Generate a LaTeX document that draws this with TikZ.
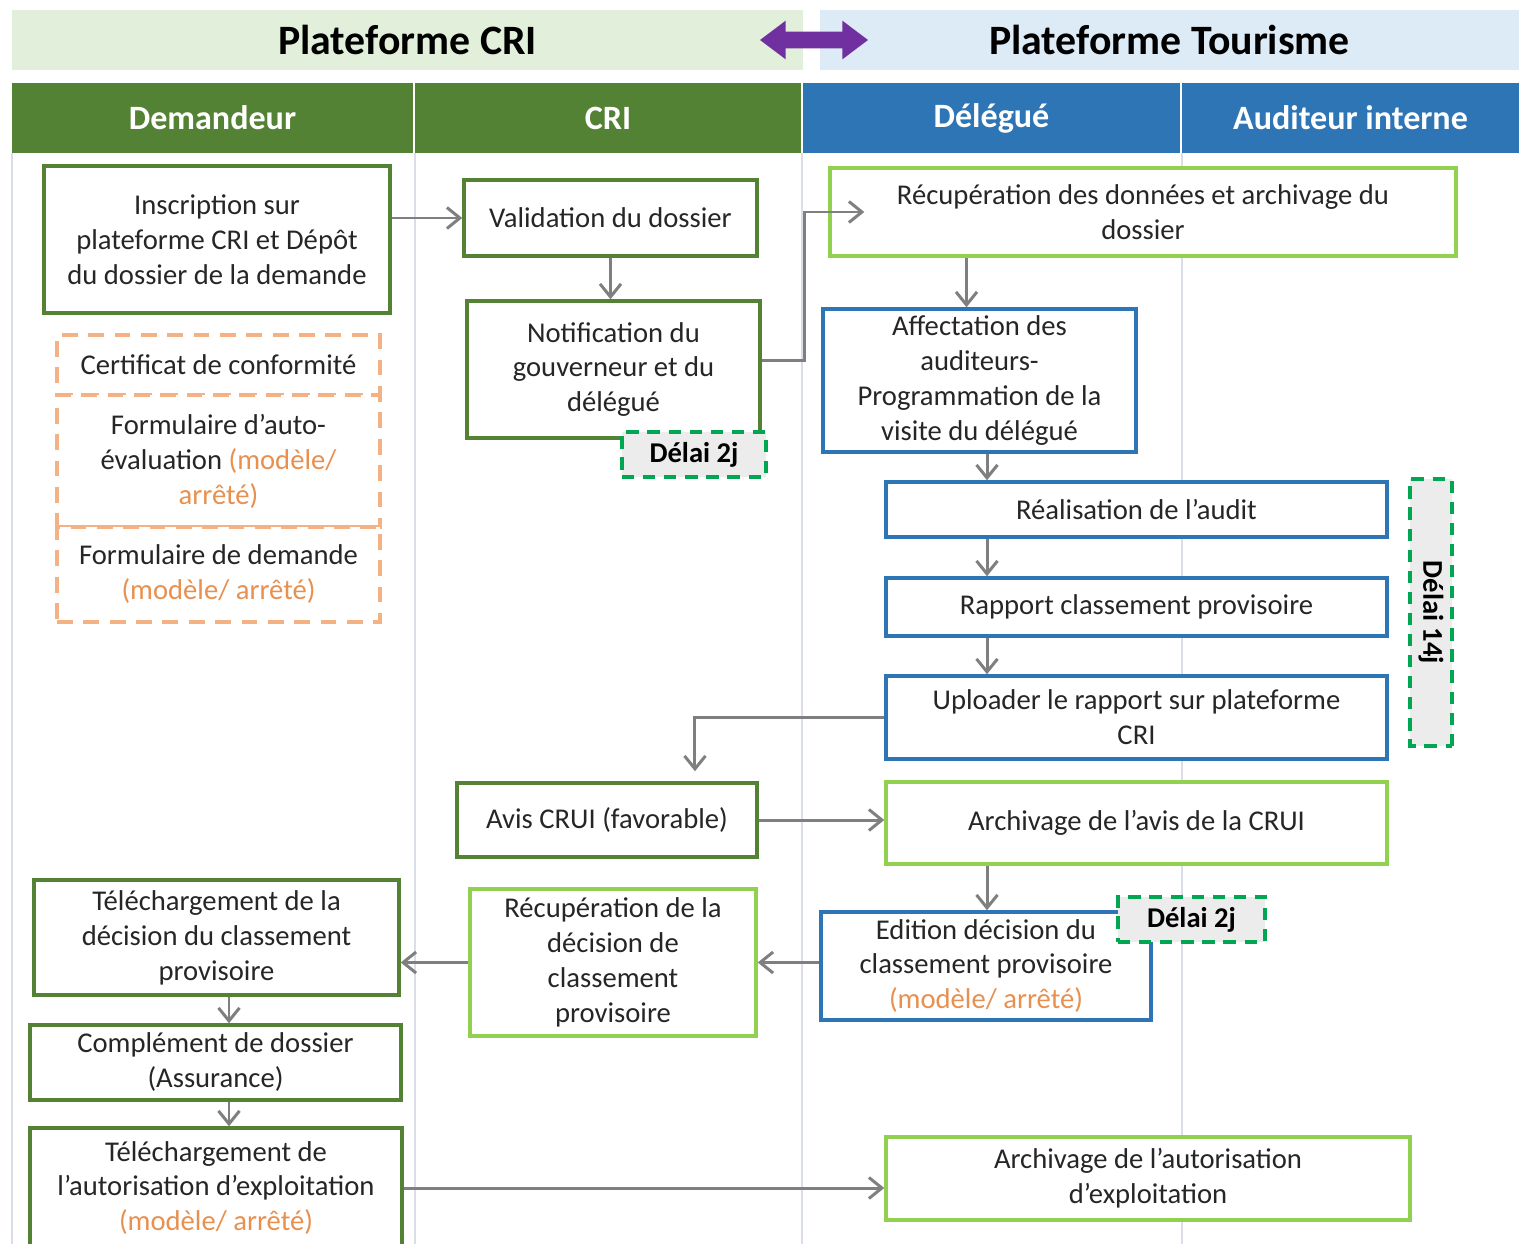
\documentclass[tikz,border=0pt]{standalone}
\usepackage{fontspec}
\setmainfont{Carlito}
\usetikzlibrary{arrows.meta,shapes.arrows}

\definecolor{crigreen}{HTML}{548235}
\definecolor{archgreen}{HTML}{92D050}
\definecolor{tourblue}{HTML}{2E75B6}
\definecolor{crilight}{HTML}{E2EFDA}
\definecolor{tourlight}{HTML}{DDEBF7}
\definecolor{pieceorange}{HTML}{F4B183}
\definecolor{orangetext}{HTML}{E8904F}
\definecolor{delaigreen}{HTML}{00A651}
\definecolor{lanegrey}{HTML}{D9DEE8}
\definecolor{arrowgrey}{HTML}{7F7F7F}
\definecolor{textgrey}{HTML}{262626}
\definecolor{linkviolet}{HTML}{7030A0}

\tikzset{
  box/.style={draw, line width=2pt, fill=white, align=center, inner sep=2pt,
    text=textgrey, font=\fontsize{16.3}{19.9}\selectfont},
  cribox/.style={box, draw=crigreen},
  archbox/.style={box, draw=archgreen},
  tourbox/.style={box, draw=tourblue},
  piecebox/.style={box, line width=1.8pt, draw=pieceorange, dash pattern=on 9pt off 6pt},
  delai/.style={draw=delaigreen, fill=gray!15, line width=1.8pt, dash pattern=on 7pt off 5pt,
    text=black, font=\fontsize{16.3}{19.9}\selectfont\bfseries},
  flow/.style={draw=arrowgrey, line width=1.7pt, -{Straight Barb[length=0.26cm,width=0.42cm]}},
  band/.style={font=\fontsize{23.8}{28}\selectfont\bfseries, minimum height=1.2cm, inner sep=0pt},
  lanehead/.style={text=white, font=\fontsize{19.4}{23}\selectfont\bfseries,
    minimum height=1.4cm, inner sep=0pt},
}
\newcommand{\modele}[1]{{\color{orangetext}#1}}

\begin{document}
\begin{tikzpicture}[x=0.02cm, y=-0.02cm]
\useasboundingbox (0,0) rectangle (1519,1244);

% bandeaux des plateformes
\node[band, fill=crilight, minimum width=15.82cm] (pcri) at (407.5,40) {Plateforme CRI};
\node[band, fill=tourlight, minimum width=13.98cm] (ptour) at (1169.5,40) {Plateforme Tourisme};
\node[double arrow, fill=linkviolet, inner sep=0.16cm, minimum height=2.16cm,
  double arrow head extend=0.22cm, double arrow tip angle=74] (plink) at (814,40) {};

% en-tetes des couloirs
\node[lanehead, fill=crigreen, minimum width=8.02cm] (hdem) at (212.5,118) {Demandeur};
\node[lanehead, fill=crigreen, minimum width=7.72cm] (hcri) at (608,118) {CRI};
\node[lanehead, fill=tourblue, minimum width=7.54cm] (hdel) at (991.5,118) {Délégué};
\node[lanehead, fill=tourblue, minimum width=6.74cm] (haud) at (1350.5,118) {Auditeur interne};

\foreach \x in {12,415,802,1182}
	\draw[lanegrey, line width=1pt] (\x,153) -- (\x,1244);

% Demandeur
\node[cribox, minimum width=6.92cm, minimum height=2.94cm] (ins) at (217,239.5)
	{Inscription sur\\plateforme CRI et Dépôt\\du dossier de la demande};
\node[piecebox, minimum width=6.46cm, minimum height=1.2cm] (cert) at (218.5,365)
	{Certificat de conformité};
\node[piecebox, minimum width=6.46cm, minimum height=2.64cm] (auto) at (218.5,461)
	{Formulaire d’auto-\\évaluation \modele{(modèle/}\\\modele{arrêté)}};
\node[piecebox, minimum width=6.46cm, minimum height=1.9cm] (form) at (218.5,574.5)
	{Formulaire de demande\\\modele{(modèle/ arrêté)}};
\node[cribox, minimum width=7.3cm, minimum height=2.3cm] (teldec) at (216.5,937.5)
	{Téléchargement de la\\décision du classement\\provisoire};
\node[cribox, minimum width=7.42cm, minimum height=1.5cm] (compl) at (215.5,1062.5)
	{Complément de dossier\\(Assurance)};
\node[cribox, minimum width=7.44cm, minimum height=2.4cm] (telaut) at (216,1188)
	{Téléchargement de\\l’autorisation d’exploitation\\\modele{(modèle/ arrêté)}};

% CRI
\node[cribox, minimum width=5.86cm, minimum height=1.52cm] (val) at (610.5,218)
	{Validation du dossier};
\node[cribox, minimum width=5.86cm, minimum height=2.74cm] (notif) at (613.5,369.5)
	{Notification du\\gouverneur et du\\délégué};
\node[delai, minimum width=2.88cm, minimum height=0.9cm] (dnotif) at (694,454.5) {Délai 2j};
\node[cribox, minimum width=6cm, minimum height=1.48cm] (avis) at (607,820)
	{Avis CRUI (favorable)};
\node[archbox, minimum width=5.72cm, minimum height=2.94cm] (recdec) at (613,962.5)
	{Récupération de la\\décision de\\classement\\provisoire};

% Delegue et auditeur
\node[archbox, minimum width=12.52cm, minimum height=1.76cm] (recup) at (1143,212)
	{Récupération des données et archivage du\\dossier};
\node[tourbox, minimum width=6.26cm, minimum height=2.86cm] (affect) at (979.5,380.5)
	{Affectation des\\auditeurs-\\Programmation de la\\visite du délégué};
\node[tourbox, minimum width=10.02cm, minimum height=1.1cm] (audit) at (1136.5,509.5)
	{Réalisation de l’audit};
\node[tourbox, minimum width=10.02cm, minimum height=1.16cm] (rapport) at (1136.5,607)
	{Rapport classement provisoire};
\node[tourbox, minimum width=10.02cm, minimum height=1.66cm] (upload) at (1136.5,717.5)
	{Uploader le rapport sur plateforme\\CRI};
\node[delai, rotate=-90, minimum width=5.34cm, minimum height=0.84cm] (daudit) at (1431,612.5)
	{Délai 14j};
\node[archbox, minimum width=10.02cm, minimum height=1.64cm] (archavis) at (1136.5,823)
	{Archivage de l’avis de la CRUI};
\node[tourbox, minimum width=6.6cm, minimum height=2.16cm] (edit) at (986,966)
	{Edition décision du\\classement provisoire\\\modele{(modèle/ arrêté)}};
\node[delai, minimum width=2.94cm, minimum height=0.9cm] (dedit) at (1191.5,919.5) {Délai 2j};
\node[archbox, minimum width=10.48cm, minimum height=1.66cm] (archaut) at (1148,1178.5)
	{Archivage de l’autorisation\\d’exploitation};

\coordinate (col) at (987,0);
\coordinate (coldem) at (229,0);

% fleches
\draw[flow] (ins.east |- val.west) -- (val.west);
\draw[flow] (val.south) -- (val.south |- notif.north);
\draw[flow] ([yshift=0.18cm]notif.east) -- ++(43,0) |- ([xshift=0.72cm]recup.west);
\draw[flow] ([xshift=-0.26cm]recup.south -| affect.north) -- ([xshift=-0.26cm]affect.north);
\draw[flow] (affect.south -| col) -- (audit.north -| col);
\draw[flow] (audit.south -| col) -- (rapport.north -| col);
\draw[flow] (rapport.south -| col) -- (upload.north -| col);
\draw[flow] (upload.west) -| ([xshift=1.76cm,yshift=0.2cm]avis.north);
\draw[flow] (avis.east) -- (archavis.west |- avis.east);
\draw[flow] (archavis.south -| col) -- (edit.north -| col);
\draw[flow] (edit.west |- recdec.east) -- (recdec.east);
\draw[flow] (recdec.west) -- (teldec.east |- recdec.west);
\draw[flow] (teldec.south -| coldem) -- (compl.north -| coldem);
\draw[flow] (compl.south -| coldem) -- (telaut.north -| coldem);
\draw[flow] (telaut.east) -- (archaut.west |- telaut.east);
\end{tikzpicture}
\end{document}
